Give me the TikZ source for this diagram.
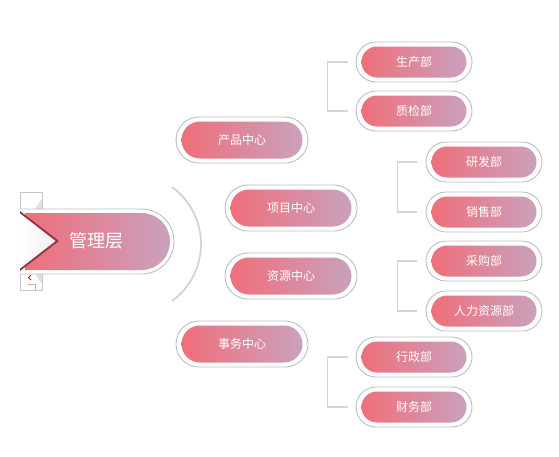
\documentclass[tikz,border=0pt]{standalone}
\usepackage{fontspec}
\setmainfont{Noto Sans CJK SC}
\usetikzlibrary{shapes.misc}
\definecolor{pillL}{RGB}{239,111,122}
\definecolor{pillR}{RGB}{202,161,190}
\definecolor{edgegray}{RGB}{190,190,190}
\definecolor{linegray}{RGB}{212,212,212}
\definecolor{darkred}{RGB}{142,58,70}
\tikzset{
  pillout/.style={rounded rectangle, draw=edgegray, line width=0.9pt, fill=white, inner sep=0pt},
  pillin/.style={rounded rectangle, draw=none, left color=pillL, right color=pillR, inner sep=0pt,
    text=white, font=\fontsize{12}{14}\selectfont},
  bracketline/.style={draw=linegray, line width=1.6pt},
  arcline/.style={draw=linegray, line width=1.8pt},
}
\newcommand{\mypill}[6]{%
  \node[pillout, minimum width=#4, minimum height=#5] (#1o) at (#2,#3) {};
  \node[pillin, minimum width=#4-11, minimum height=#5-9] (#1) at (#2,#3) {#6};}
\begin{document}
\begin{tikzpicture}[x=1pt,y=-1pt]
\useasboundingbox (0,0) rectangle (559,456);
% arc
\coordinate (arcc) at (130.5,244);
\draw[arcline] (arcc) ++(-54:70.5) arc[start angle=-54, end angle=54, radius=70.5];
% banner frame
\draw[draw=gray!45, fill=white, line width=0.6pt] (20,192) rectangle (42,290);
\fill[gray!25] (35,209) -- (42,199) -- (42,209) -- cycle;
\fill[gray!25] (35,274) -- (42,284) -- (42,274) -- cycle;
\draw[gray!55, line width=0.6pt] (28,284) -- (35,284) -- (35,290);
\draw[red, line width=1pt] (31,275) -- (28.5,277.5) -- (31,280);
% banner body
\draw[draw=edgegray, line width=0.9pt, fill=white] (20,209) -- (141.5,209) arc[start angle=-90, end angle=90, radius=32.5] -- (20,274);
\shade[left color=pillL, right color=pillR] (25,213) -- (141.5,213) arc[start angle=-90, end angle=90, radius=28.5] -- (25,270) -- cycle;
\fill[darkred] (20,211) -- (59,241) -- (20,271) -- cycle;
\shade[left color=white, right color=gray!12] (20,213.5) -- (55.5,241) -- (20,268.5) -- cycle;
\node[text=white, font=\fontsize{18}{20}\selectfont] (root) at (96,241) {管理层};
% level 2
\mypill{c1}{242}{140}{132}{46}{产品中心}
\mypill{c2}{291}{208}{132}{46}{项目中心}
\mypill{c3}{291}{276}{132}{46}{资源中心}
\mypill{c4}{242}{344}{132}{46}{事务中心}
% level 3
\mypill{d1}{414}{62}{116}{40}{生产部}
\mypill{d2}{414}{111}{116}{40}{质检部}
\mypill{d3}{484}{162}{116}{40}{研发部}
\mypill{d4}{484}{212}{116}{40}{销售部}
\mypill{d5}{484}{261}{116}{40}{采购部}
\mypill{d6}{484}{311}{116}{40}{人力资源部}
\mypill{d7}{414}{357}{116}{40}{行政部}
\mypill{d8}{414}{407}{116}{40}{财务部}
% brackets
\draw[bracketline] ([xshift=-8]d1o.west) -- ++(-20,0) |- ([xshift=-8]d2o.west);
\draw[bracketline] ([xshift=-9]d3o.west) -- ++(-19,0) |- ([xshift=-9]d4o.west);
\draw[bracketline] ([xshift=-9]d5o.west) -- ++(-19,0) |- ([xshift=-9]d6o.west);
\draw[bracketline] ([xshift=-8]d7o.west) -- ++(-20,0) |- ([xshift=-8]d8o.west);
\end{tikzpicture}
\end{document}
